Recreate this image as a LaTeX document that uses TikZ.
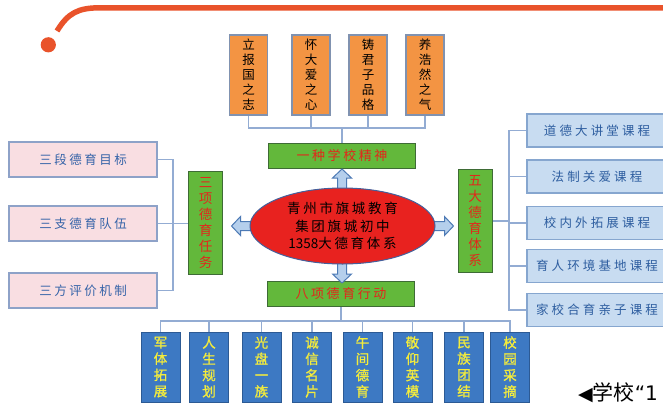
\documentclass[tikz,border=0pt]{standalone}
\usepackage{fontspec}
\newfontfamily\cjk{Noto Sans CJK SC}
\newfontfamily\cjkls[LetterSpace=20]{Noto Sans CJK SC}
\newfontfamily\cjklsw[LetterSpace=25]{Noto Sans CJK SC}
\newfontfamily\cjkb[FakeBold=1.2]{Noto Sans CJK SC}
\newfontfamily\symf{DejaVu Sans}
\usetikzlibrary{shapes.geometric,calc}
\definecolor{ofill}{HTML}{F39443}
\definecolor{obord}{HTML}{8092B0}
\definecolor{gfill}{HTML}{63B83B}
\definecolor{gbord}{HTML}{3E6B35}
\definecolor{gtext}{HTML}{E3261B}
\definecolor{efill}{HTML}{E8221F}
\definecolor{ebord}{HTML}{44609C}
\definecolor{pfill}{HTML}{F9DEE2}
\definecolor{pbord}{HTML}{8EA2C8}
\definecolor{ptext}{HTML}{3563A8}
\definecolor{rfill}{HTML}{C8DCF1}
\definecolor{rbord}{HTML}{86A6CF}
\definecolor{rtext}{HTML}{2E5EA0}
\definecolor{bfill}{HTML}{3D79C3}
\definecolor{bbord}{HTML}{2C5A94}
\definecolor{btext}{HTML}{F4EC3C}
\definecolor{connc}{HTML}{93ACD3}
\definecolor{afill}{HTML}{B5CFEC}
\definecolor{abord}{HTML}{4D7AB5}
\definecolor{arcc}{HTML}{E9532B}
\newcommand{\blockarr}[2]{%
  \draw[barrow, shift={(#1)}, rotate=#2] (-3,-4.5) -- (10,-4.5) -- (10,-9.5) -- (19,0) -- (10,9.5) -- (10,4.5) -- (-3,4.5) -- cycle;}
\begin{document}
\begin{tikzpicture}[x=1pt,y=-1pt,
  orangebox/.style={draw=obord, fill=ofill, line width=1.2pt, minimum width=38pt, minimum height=80pt, inner sep=0pt, align=center, font=\cjk\fontsize{12.5}{15}\selectfont},
  greenbox/.style={draw=gbord, fill=gfill, line width=1pt, inner sep=0pt, text=gtext, align=center},
  ghoriz/.style={greenbox, minimum width=147pt, minimum height=25pt, font=\cjkls\fontsize{13}{15}\selectfont},
  gvert/.style={greenbox, minimum width=34pt, minimum height=103pt, font=\cjk\fontsize{13.5}{16}\selectfont},
  pinkbox/.style={draw=pbord, fill=pfill, line width=1.2pt, minimum width=148pt, minimum height=35pt, inner sep=0pt, text=ptext, font=\cjkls\fontsize{12.5}{14}\selectfont},
  rightbox/.style={draw=rbord, fill=rfill, line width=1.2pt, minimum width=140pt, minimum height=33pt, inner sep=0pt, text=rtext, font=\cjklsw\fontsize{12.5}{14}\selectfont},
  bluebox/.style={draw=bbord, fill=bfill, line width=1pt, minimum width=39pt, minimum height=70pt, inner sep=0pt, text=btext, align=center, font=\cjkb\fontsize{13.5}{16.3}\selectfont},
  conn/.style={draw=connc, line width=1.2pt},
  barrow/.style={draw=abord, fill=afill, line width=1pt, line join=miter}
]
\useasboundingbox (0,0) rectangle (663,407);
% decorative arc and dot
\draw[arcc, line width=5.5pt] (57,31) .. controls (68,13) and (78,7.8) .. (100,7.8) -- (680,7.8);
\fill[arcc] (48.3,44.8) circle (7.6);
% top boxes
\node[orangebox] (t1) at (248.5,75) {立\\报\\国\\之\\志};
\node[orangebox] (t2) at (311,75) {怀\\大\\爱\\之\\心};
\node[orangebox] (t3) at (368,75) {铸\\君\\子\\品\\格};
\node[orangebox] (t4) at (425,75) {养\\浩\\然\\之\\气};
% green boxes
\node[ghoriz] (g1) at (342,155.5) {一种学校精神};
\node[gvert] (g2) at (205.5,223) {三\\项\\德\\育\\任\\务};
\node[gvert] (g3) at (475,221) {五\\大\\德\\育\\体\\系};
\node[ghoriz] (g4) at (341,294) {八项德育行动};
% arrows around the ellipse
\coordinate (en) at (342,188);
\coordinate (es) at (342,264);
\coordinate (ew) at (250.5,226);
\coordinate (ee) at (434.5,226);
\blockarr{en}{90}
\blockarr{es}{-90}
\blockarr{ew}{180}
\blockarr{ee}{0}
\node[ellipse, draw=ebord, fill=efill, line width=1pt, minimum width=185pt, minimum height=76pt, inner sep=0pt, align=center, font=\cjkls\fontsize{13.5}{17.5}\selectfont] (ell) at (342.5,226) {青州市旗城教育\\集团旗城初中\\{\cjk 1358}大德育体系};
% left boxes
\node[pinkbox] (l1) at (83,159.5) {三段德育目标};
\node[pinkbox] (l2) at (83,223.5) {三支德育队伍};
\node[pinkbox] (l3) at (83,290.5) {三方评价机制};
% right boxes
\node[rightbox] (r1) at (597,130.5) {道德大讲堂课程};
\node[rightbox] (r2) at (597,176.5) {法制关爱课程};
\node[rightbox] (r3) at (597,223) {校内外拓展课程};
\node[rightbox] (r4) at (597,266) {育人环境基地课程};
\node[rightbox] (r5) at (597,310) {家校合育亲子课程};
% bottom boxes
\node[bluebox] (b1) at (160.5,367) {军\\体\\拓\\展};
\node[bluebox] (b2) at (209,367) {人\\生\\规\\划};
\node[bluebox] (b3) at (261.5,367) {光\\盘\\一\\族};
\node[bluebox] (b4) at (312,367) {诚\\信\\名\\片};
\node[bluebox] (b5) at (362.5,367) {午\\间\\德\\育};
\node[bluebox] (b6) at (412.5,367) {敬\\仰\\英\\模};
\node[bluebox] (b7) at (464,367) {民\\族\\团\\结};
\node[bluebox] (b8) at (510,367) {校\\园\\采\\摘};
% connectors top
\coordinate (tj) at (342,128);
\draw[conn] (t1.south) |- (tj);
\draw[conn] (t4.south) |- (tj);
\draw[conn] (t2.south) -- (t2.south |- tj);
\draw[conn] (t3.south) -- (t3.south |- tj);
\draw[conn] (tj) -- (tj |- g1.north);
% connectors left
\coordinate (lj) at (173,223.5);
\draw[conn] (l1.east) -| (lj);
\draw[conn] (l3.east) -| (lj);
\draw[conn] (l2.east) -- (l2.east -| g2.west);
% connectors right
\coordinate (rj) at (509,221);
\draw[conn] (r1.west) -| (rj);
\draw[conn] (r5.west) -| (rj);
\draw[conn] (r2.west) -- (r2.west -| rj);
\draw[conn] (r3.west) -- (r3.west -| rj);
\draw[conn] (r4.west) -- (r4.west -| rj);
\draw[conn] (g3.east) -- (g3.east -| rj);
% connectors bottom
\coordinate (bj) at (341,321);
\draw[conn] (g4.south) -- (bj);
\draw[conn] (b1.north) |- (bj);
\draw[conn] (b8.north) |- (bj);
\foreach \n in {b2,b3,b4,b5,b6,b7} \draw[conn] (\n.north) -- (\n.north |- bj);
% caption fragment
\node[anchor=base west, inner sep=0pt, font=\cjk\fontsize{21}{21}\selectfont] (cap) at (578,400) {{\symf\fontsize{19}{19}\selectfont ◀}学校{\symf\fontsize{20}{20}\selectfont “1}};
\end{tikzpicture}
\end{document}
